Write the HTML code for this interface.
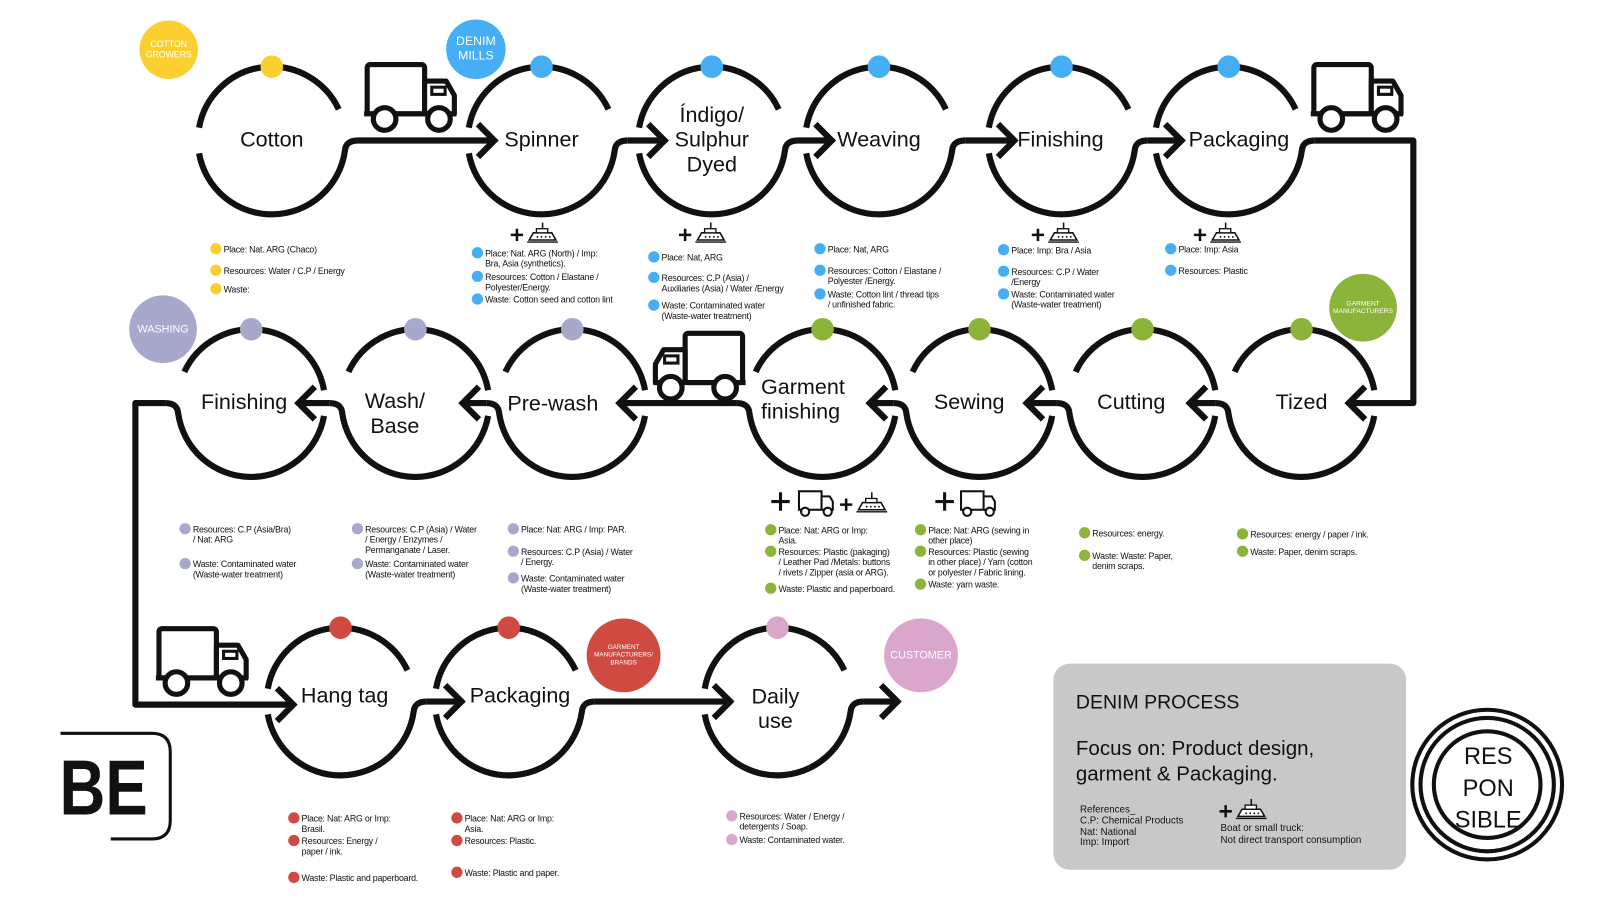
<!DOCTYPE html>
<html><head><meta charset="utf-8">
<style>
html,body{margin:0;padding:0;background:#fff;width:1600px;height:900px;overflow:hidden}
#wrap{position:absolute;left:0;top:0;width:1560px;height:878px;transform:scale(1.02564);transform-origin:0 0;font-family:"Liberation Sans",sans-serif;color:#111}
#g{position:absolute;left:0;top:0}
.lst{position:absolute;font-size:8.6px;line-height:10px;letter-spacing:-0.2px}
.it{position:absolute;left:0;white-space:nowrap;padding-left:12px}
.it i{position:absolute;left:-1px;top:-1px;width:11px;height:11px;border-radius:50%}
.lab{position:absolute;font-size:21px;line-height:24px;text-align:center;color:#111;white-space:nowrap}
.bub{position:absolute;border-radius:50%;color:#fff;display:flex;align-items:center;justify-content:center;text-align:center;line-height:1.15}
</style></head><body>
<div id="wrap">
<svg id="g" width="1560" height="878" viewBox="0 0 1560 878">
<defs>
<g id="truck">
<rect x="3" y="3" width="56" height="48" rx="3" fill="#fff" stroke="#111" stroke-width="5"/>
<path d="M59 19 H80 L88 33 V51 H59 Z" fill="#fff" stroke="#111" stroke-width="5" stroke-linejoin="round"/>
<rect x="66" y="25" width="13" height="7" fill="none" stroke="#111" stroke-width="3"/>
<line x1="0" y1="51" x2="90" y2="51" stroke="#111" stroke-width="5"/>
<circle cx="20" cy="56" r="11" fill="#fff" stroke="#111" stroke-width="5"/>
<circle cx="73" cy="56" r="11" fill="#fff" stroke="#111" stroke-width="5"/>
</g>
<g id="ship">
<path d="M0 0 h12 M6 -6 v12" stroke="#111" stroke-width="2.5"/>
<path d="M18 5 L22 -2 H40 L44 5 Z" fill="#fff" stroke="#111" stroke-width="1.5"/>
<rect x="25" y="-6" width="11" height="4" fill="#fff" stroke="#111" stroke-width="1.3"/>
<line x1="31" y1="-6" x2="31" y2="-12" stroke="#111" stroke-width="1.5"/>
<line x1="16" y1="7" x2="46" y2="7" stroke="#111" stroke-width="1.3"/>
<circle cx="26" cy="2" r="0.9" fill="#111"/><circle cx="30" cy="2" r="0.9" fill="#111"/><circle cx="34" cy="2" r="0.9" fill="#111"/><circle cx="38" cy="2" r="0.9" fill="#111"/>
</g>
<g id="struck">
<rect x="1" y="1" width="22" height="18" fill="#fff" stroke="#111" stroke-width="2"/>
<path d="M23 6 H31 L34 11 V19 H23" fill="none" stroke="#111" stroke-width="2"/>
<circle cx="7" cy="21" r="4" fill="#fff" stroke="#111" stroke-width="2"/>
<circle cx="29" cy="21" r="4" fill="#fff" stroke="#111" stroke-width="2"/>
</g>
</defs>
</svg>

<div class="bub" style="left:136px;top:20px;width:57px;height:57px;background:#fccf30;font-size:8.5px">COTTON<br>GROWERS</div>
<div class="bub" style="left:435px;top:19px;width:58px;height:58px;background:#45aef5;font-size:12px">DENIM<br>MILLS</div>
<div class="bub" style="left:126px;top:288px;width:66px;height:66px;background:#a8a8cc;font-size:10.5px">WASHING</div>
<div class="bub" style="left:1296px;top:267px;width:66px;height:66px;background:#8cb33a;font-size:6.5px">GARMENT<br>MANUFACTURERS</div>
<div class="bub" style="left:572px;top:603px;width:72px;height:72px;background:#d04a42;font-size:6.2px">GARMENT<br>MANUFACTURERS/<br>BRANDS</div>
<div class="bub" style="left:862px;top:603px;width:72px;height:72px;background:#dba6cc;font-size:10.5px">CUSTOMER</div>

<div class="lab" style="left:215px;top:125px;width:100px">Cotton</div>
<div class="lab" style="left:478px;top:125px;width:100px">Spinner</div>
<div class="lab" style="left:634px;top:101px;width:120px">Índigo/<br>Sulphur<br>Dyed</div>
<div class="lab" style="left:807px;top:125px;width:100px">Weaving</div>
<div class="lab" style="left:984px;top:125px;width:100px">Finishing</div>
<div class="lab" style="left:1148px;top:125px;width:120px">Packaging</div>
<div class="lab" style="left:1219px;top:381px;width:100px">Tized</div>
<div class="lab" style="left:1053px;top:381px;width:100px">Cutting</div>
<div class="lab" style="left:895px;top:381px;width:100px">Sewing</div>
<div class="lab" style="left:742px;top:366px;text-align:left">Garment<br>finishing</div>
<div class="lab" style="left:489px;top:382px;width:100px">Pre-wash</div>
<div class="lab" style="left:345px;top:380px;width:80px">Wash/<br>Base</div>
<div class="lab" style="left:186px;top:381px;width:104px">Finishing</div>
<div class="lab" style="left:282px;top:667px;width:108px">Hang tag</div>
<div class="lab" style="left:450px;top:667px;width:114px">Packaging</div>
<div class="lab" style="left:716px;top:668px;width:80px">Daily<br>use</div>

<div style="position:absolute;left:1027px;top:647px;width:344px;height:201px;background:#c8c8c8;border-radius:16px">
<div style="position:absolute;left:22px;top:28px;font-size:19px">DENIM PROCESS</div>
<div style="position:absolute;left:22px;top:71px;font-size:20px;line-height:25px">Focus on: Product design,<br>garment &amp; Packaging.</div>
<div style="position:absolute;left:26px;top:138px;font-size:9.5px;line-height:10.8px">References_<br>C.P: Chemical Products<br>Nat: National<br>Imp: Import</div>
<svg style="position:absolute;left:160px;top:130px" width="60" height="26" viewBox="-2 -14 60 26"><use href="#ship"/></svg>
<div style="position:absolute;left:163px;top:155px;font-size:9.5px;line-height:11.5px">Boat or small truck:<br>Not direct transport consumption</div>
</div>

<div id="lists"></div>
</div>
<script>
const NS='http://www.w3.org/2000/svg';
const svg=document.getElementById('g');
const R=72;
function mk(tag,attrs){const e=document.createElementNS(NS,tag);for(const k in attrs)e.setAttribute(k,attrs[k]);svg.appendChild(e);return e;}
const P=(cx,cy,a)=>[cx+R*Math.cos(a*Math.PI/180),cy+R*Math.sin(a*Math.PI/180)];
const nodes=[
 [265,137,1,'#fccf30','cotton'],[528,137,1,'#45aef5','spinner'],[694,137,1,'#45aef5','indigo'],[857,137,1,'#45aef5','weaving'],[1035,137,1,'#45aef5','finishing'],[1198,137,1,'#45aef5','packaging'],
 [1269,393,-1,'#8cb33a','tized'],[1114,393,-1,'#8cb33a','cutting'],[955,393,-1,'#8cb33a','sewing'],[802,393,-1,'#8cb33a','garment-finishing'],[558,393,-1,'#a8a8cc','pre-wash'],[405,393,-1,'#a8a8cc','wash-base'],[245,393,-1,'#a8a8cc','finishing-2'],
 [332,684,1,'#d04a42','hang-tag'],[496,684,1,'#d04a42','packaging-2'],[758,684,1,'#dba6cc','daily-use']
];
const st={fill:'none',stroke:'#111','stroke-width':6};
nodes.forEach(n=>{
 const [cx,cy,d,col,name]=n;
 let a1,a2,b1,b2,sw1,sw2;
 if(d>0){a1=190;a2=335;sw1=1;b1=170;b2=8;sw2=0;}
 else{a1=350;a2=205;sw1=0;b1=10;b2=172;sw2=1;}
 const p1=P(cx,cy,a1),p2=P(cx,cy,a2),q1=P(cx,cy,b1),q2=P(cx,cy,b2);
 const top=mk('path',Object.assign({d:`M${p1[0]} ${p1[1]} A${R} ${R} 0 0 ${sw1} ${p2[0]} ${p2[1]}`},st));
 
 
 const ex=cx+d*(R+12);
 const bot=mk('path',Object.assign({d:`M${q1[0]} ${q1[1]} A${R} ${R} 0 0 ${sw2} ${q2[0]} ${q2[1]} Q${cx+d*R} ${cy} ${ex} ${cy}`},st));
 
 
 const dot=mk('circle',{cx:cx,cy:cy-R,r:11,fill:col});
 
 
});
const ex=(i)=>nodes[i][0]+nodes[i][2]*(R+12);
const tip=(i)=>nodes[i][0]-nodes[i][2]*(R-26);
const links=[];
for(let i=0;i<5;i++)links.push([[ex(i),137],[tip(i+1),137],1]);
links.push([[ex(5),137],[1378,137],[1378,393],[tip(6),393],-1]);
for(let i=6;i<12;i++)links.push([[ex(i),393],[tip(i+1),393],-1]);
links.push([[ex(12),393],[132,393],[132,687],[tip(13),687],1]);
links.push([[ex(13),684],[tip(14),684],1]);
links.push([[ex(14),684],[tip(15),684],1]);
links.push([[ex(15),684],[875,684],1]);
links.forEach((L,k)=>{
 const dir=L[L.length-1];const pts=L.slice(0,-1);
 const ln=mk('polyline',Object.assign({points:pts.map(p=>p.join(',')).join(' '),'stroke-linejoin':'round'},st));
 
 
 const t=pts[pts.length-1];
 const ah=mk('polyline',Object.assign({points:`${t[0]-dir*16},${t[1]-16} ${t[0]},${t[1]} ${t[0]-dir*16},${t[1]+16}`},st));
 
 
});
function use(id,tr,name){const u=mk('use',{href:'#'+id,transform:tr});}
use('truck','translate(355,60)','truck-icon-top-left');
use('truck','translate(1278,60)','truck-icon-top-right');
use('truck','translate(727,322) scale(-1,1)','truck-icon-middle');
use('truck','translate(152,610)','truck-icon-bottom-left');
use('ship','translate(498,229)','ship-icon-spinner');
use('ship','translate(662,229)','ship-icon-indigo');
use('ship','translate(1006,229)','ship-icon-finishing');
use('ship','translate(1164,229)','ship-icon-packaging');
use('ship','translate(819,492)','ship-icon-garment');
function plus(x,y,name){const p=mk('path',{d:`M${x} ${y} h18 M${x+9} ${y-9} v18`,stroke:'#111','stroke-width':3});}
plus(752,489,'plus-garment');plus(912,489,'plus-sewing');
use('struck','translate(778,478)','small-truck-garment');
use('struck','translate(936,478)','small-truck-sewing');
const be=mk('text',{x:58,y:794,'font-size':76,'font-weight':'bold','font-family':'Liberation Sans, sans-serif',fill:'#111',textLength:86,lengthAdjust:'spacingAndGlyphs'});be.textContent='BE';


const bf=mk('path',{d:'M59 715 H148 Q166 715 166 733 V800 Q166 818 148 818 H108',fill:'none',stroke:'#111','stroke-width':3});


[73,65,52].forEach((r,i)=>{const c=mk('circle',{cx:1450,cy:765,r:r,fill:'none',stroke:'#111','stroke-width':4});

});
['RES','PON','SIBLE'].forEach((w,i)=>{const t=mk('text',{x:1451,y:745+i*31,'font-size':23,'text-anchor':'middle','font-family':'Liberation Sans, sans-serif',fill:'#111'});t.textContent=w;

});

const lists=[
 [211,'#fccf30',[[243,'Place: Nat. ARG (Chaco)'],[264,'Resources: Water / C.P / Energy'],[282,'Waste:']]],
 [466,'#45aef5',[[247,'Place: Nat. ARG (North) / Imp:<br>Bra, Asia (synthetics).'],[270,'Resources: Cotton / Elastane /<br>Polyester/Energy.'],[292,'Waste: Cotton seed and cotton lint']]],
 [638,'#45aef5',[[251,'Place: Nat, ARG'],[271,'Resources: C.P (Asia) /<br>Auxiliaries (Asia) / Water /Energy'],[298,'Waste: Contaminated water<br>(Waste-water treatment)']]],
 [800,'#45aef5',[[243,'Place: Nat, ARG'],[264,'Resources: Cotton / Elastane /<br>Polyester /Energy.'],[287,'Waste: Cotton lint / thread tips<br>/ unfinished fabric.']]],
 [979,'#45aef5',[[244,'Place: Imp: Bra / Asia'],[265,'Resources: C.P / Water<br>/Energy'],[287,'Waste: Contaminated water<br>(Waste-water treatment)']]],
 [1142,'#45aef5',[[243,'Place: Imp: Asia'],[264,'Resources: Plastic']]],
 [181,'#a8a8cc',[[516,'Resources: C.P (Asia/Bra)<br>/ Nat: ARG'],[550,'Waste: Contaminated water<br>(Waste-water treatment)']]],
 [349,'#a8a8cc',[[516,'Resources: C.P (Asia) / Water<br>/ Energy / Enzymes /<br>Permanganate / Laser.'],[550,'Waste: Contaminated water<br>(Waste-water treatment)']]],
 [501,'#a8a8cc',[[516,'Place: Nat: ARG / Imp: PAR.'],[538,'Resources: C.P (Asia) / Water<br>/ Energy.'],[564,'Waste: Contaminated water<br>(Waste-water treatment)']]],
 [752,'#8cb33a',[[517,'Place: Nat: ARG or Imp:<br>Asia.'],[538,'Resources: Plastic (pakaging)<br>/ Leather Pad /Metals: buttons<br>/ rivets / Zipper (asia or ARG).'],[574,'Waste: Plastic and paperboard.']]],
 [898,'#8cb33a',[[517,'Place: Nat: ARG (sewing in<br>other place)'],[538,'Resources: Plastic (sewing<br>in other place) / Yarn (cotton<br>or polyester / Fabric lining.'],[570,'Waste: yarn waste.']]],
 [1058,'#8cb33a',[[520,'Resources: energy.'],[542,'Waste: Waste: Paper,<br>denim scraps.']]],
 [1212,'#8cb33a',[[521,'Resources: energy / paper / ink.'],[538,'Waste: Paper, denim scraps.']]],
 [287,'#d04a42',[[798,'Place: Nat: ARG or Imp:<br>Brasil.'],[820,'Resources: Energy /<br>paper / ink.'],[856,'Waste: Plastic and paperboard.']]],
 [446,'#d04a42',[[798,'Place: Nat: ARG or Imp:<br>Asia.'],[820,'Resources: Plastic.'],[851,'Waste: Plastic and paper.']]],
 [714,'#dba6cc',[[796,'Resources: Water / Energy /<br>detergents / Soap.'],[819,'Waste: Contaminated water.']]]
];
const host=document.getElementById('lists');
lists.forEach((L,i)=>{
 const d=document.createElement('div');d.className='lst';d.style.left=(L[0]-5)+'px';d.style.top='0px';
 
 
 L[2].forEach((it,j)=>{
  const e=document.createElement('div');e.className='it';e.style.top=(it[0]-5)+'px';
  e.innerHTML='<i style="background:'+L[1]+'"></i>'+it[1];
  
  
  d.appendChild(e);
 });
 host.appendChild(d);
});
</script>
</body></html>
